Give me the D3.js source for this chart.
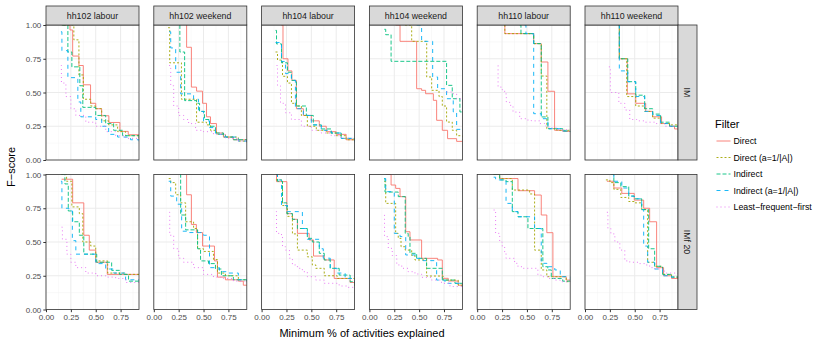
<!DOCTYPE html>
<html>
<head>
<meta charset="utf-8">
<script src="https://cdn.jsdelivr.net/npm/d3@7"></script>
<style>
body { margin: 0; background: #fff; }
text { font-family: "Liberation Sans", Arial, sans-serif; }
</style>
</head>
<body>
<svg width="830" height="346"></svg>
<script>
// facetten en reeksen
var households = ["hh102 labour", "hh102 weekend", "hh104 labour", "hh104 weekend", "hh110 labour", "hh110 weekend"];
var models = ["IM", "IMf 20"];
var filters = ["Direct", "Direct (a=1/|A|)", "Indirect", "Indirect (a=1/|A|)", "Least\u2212frequent\u2212first"];
var colors = ["#F8766D", "#A3A500", "#00BF7D", "#00B0F6", "#E76BF3"];
var dashes = [null, "2,2", "4,2", "4,4", "1,3"];
var xTicks = [0, 0.25, 0.5, 0.75];
var yTicks = [0, 0.25, 0.5, 0.75, 1];

// elke paneel: [Direct, Direct (a), Indirect, Indirect (a), Least-frequent-first], punten [x, F-score]
var hh102LabourIM = [
  [[0.157,1.0],[0.241,0.963],[0.268,0.77],[0.331,0.70],[0.375,0.557],[0.448,0.42],[0.50,0.38],[0.559,0.328],[0.632,0.278],[0.743,0.212],[0.827,0.187],[0.937,0.155]],
  [[0.174,1.0],[0.28,0.89],[0.331,0.63],[0.375,0.45],[0.45,0.40],[0.50,0.38],[0.56,0.29],[0.63,0.26],[0.72,0.21],[0.80,0.18],[0.937,0.16]],
  [[0.16,1.0],[0.22,0.80],[0.26,0.69],[0.34,0.55],[0.37,0.39],[0.50,0.33],[0.60,0.27],[0.68,0.22],[0.77,0.18],[0.937,0.15]],
  [[0.15,0.95],[0.16,0.81],[0.22,0.61],[0.32,0.43],[0.35,0.32],[0.50,0.30],[0.56,0.25],[0.63,0.19],[0.72,0.17],[0.85,0.15],[0.937,0.13]],
  [[0.15,0.70],[0.155,0.57],[0.20,0.47],[0.25,0.38],[0.30,0.33],[0.40,0.28],[0.50,0.25],[0.60,0.21],[0.70,0.18],[0.80,0.16],[0.937,0.14]]
];
var hh102WeekendIM = [
  [[0.328,1.0],[0.33,0.835],[0.378,0.54],[0.43,0.51],[0.49,0.42],[0.53,0.32],[0.57,0.27],[0.63,0.20],[0.70,0.17],[0.80,0.15],[0.937,0.13]],
  [[0.144,0.98],[0.16,0.72],[0.278,0.45],[0.43,0.28],[0.53,0.26],[0.57,0.22],[0.63,0.19],[0.72,0.17],[0.85,0.14],[0.937,0.13]],
  [[0.261,1.0],[0.262,0.80],[0.31,0.44],[0.43,0.42],[0.46,0.36],[0.51,0.30],[0.56,0.25],[0.62,0.20],[0.70,0.17],[0.80,0.15],[0.937,0.13]],
  [[0.154,0.95],[0.17,0.83],[0.22,0.65],[0.27,0.49],[0.40,0.45],[0.45,0.36],[0.50,0.29],[0.56,0.24],[0.62,0.19],[0.72,0.17],[0.85,0.14],[0.937,0.13]],
  [[0.154,0.70],[0.17,0.55],[0.20,0.40],[0.25,0.33],[0.30,0.30],[0.35,0.27],[0.42,0.22],[0.50,0.21],[0.60,0.19],[0.72,0.16],[0.85,0.14],[0.937,0.13]]
];
var hh104LabourIM = [
  [[0.197,1.0],[0.215,0.75],[0.265,0.66],[0.305,0.59],[0.35,0.38],[0.42,0.33],[0.50,0.29],[0.58,0.25],[0.65,0.21],[0.75,0.19],[0.85,0.15],[0.937,0.14]],
  [[0.14,0.80],[0.16,0.74],[0.21,0.62],[0.26,0.57],[0.30,0.42],[0.35,0.40],[0.40,0.33],[0.46,0.25],[0.55,0.22],[0.65,0.20],[0.75,0.18],[0.85,0.15],[0.937,0.14]],
  [[0.14,0.96],[0.15,0.86],[0.20,0.72],[0.26,0.65],[0.30,0.59],[0.35,0.40],[0.45,0.33],[0.52,0.26],[0.60,0.23],[0.70,0.20],[0.80,0.16],[0.937,0.14]],
  [[0.14,0.87],[0.20,0.73],[0.24,0.64],[0.30,0.59],[0.34,0.38],[0.42,0.33],[0.50,0.26],[0.60,0.22],[0.70,0.20],[0.80,0.16],[0.937,0.13]],
  [[0.15,0.70],[0.16,0.55],[0.19,0.42],[0.24,0.35],[0.30,0.30],[0.40,0.25],[0.50,0.22],[0.60,0.20],[0.70,0.18],[0.80,0.16],[0.937,0.14]]
];
var hh104WeekendIM = [
  [[0.264,1.0],[0.308,0.879],[0.475,0.528],[0.525,0.516],[0.565,0.491],[0.643,0.442],[0.676,0.294],[0.733,0.22],[0.786,0.158],[0.877,0.138],[0.937,0.138]],
  [[0.358,1.0],[0.425,0.879],[0.576,0.615],[0.626,0.516],[0.70,0.47],[0.733,0.40],[0.776,0.281],[0.833,0.22],[0.877,0.18],[0.937,0.146]],
  [[0.15,0.968],[0.164,0.928],[0.218,0.731],[0.776,0.553],[0.833,0.454],[0.91,0.356],[0.937,0.356]],
  [[0.475,1.0],[0.525,0.879],[0.636,0.615],[0.686,0.528],[0.776,0.454],[0.843,0.356],[0.877,0.227],[0.937,0.227]],
  [[0.776,0.504],[0.833,0.491],[0.877,0.454],[0.937,0.43]]
];
var hh110LabourIM = [
  [[0.276,1.0],[0.278,0.936],[0.568,0.862],[0.644,0.726],[0.711,0.509],[0.778,0.22],[0.86,0.212],[0.937,0.212]],
  [[0.276,1.0],[0.278,0.936],[0.568,0.862],[0.644,0.622],[0.70,0.232],[0.80,0.22],[0.937,0.212]],
  [[0.427,1.0],[0.44,0.936],[0.568,0.862],[0.644,0.319],[0.711,0.232],[0.86,0.215],[0.937,0.207]],
  [[0.476,1.0],[0.49,0.936],[0.568,0.343],[0.644,0.306],[0.711,0.232],[0.86,0.215],[0.937,0.205]],
  [[0.209,0.70],[0.21,0.54],[0.252,0.52],[0.276,0.49],[0.293,0.43],[0.326,0.405],[0.36,0.355],[0.427,0.306],[0.49,0.296],[0.544,0.29],[0.627,0.27],[0.677,0.252],[0.72,0.237],[0.80,0.225],[0.937,0.21]]
];
var hh110WeekendIM = [
  [[0.34,1.0],[0.345,0.75],[0.425,0.49],[0.51,0.42],[0.61,0.36],[0.68,0.32],[0.77,0.27],[0.85,0.25],[0.90,0.23],[0.937,0.23]],
  [[0.34,1.0],[0.345,0.75],[0.42,0.47],[0.51,0.40],[0.60,0.36],[0.68,0.31],[0.76,0.27],[0.85,0.26],[0.937,0.25]],
  [[0.34,1.0],[0.345,0.75],[0.43,0.58],[0.51,0.48],[0.60,0.38],[0.68,0.34],[0.76,0.28],[0.85,0.25],[0.937,0.25]],
  [[0.34,1.0],[0.345,0.66],[0.43,0.58],[0.51,0.47],[0.60,0.36],[0.68,0.33],[0.76,0.27],[0.85,0.25],[0.937,0.24]],
  [[0.24,0.69],[0.255,0.50],[0.34,0.42],[0.40,0.37],[0.45,0.30],[0.52,0.29],[0.60,0.28],[0.70,0.27],[0.80,0.25],[0.937,0.24]]
];
var hh102LabourIMf = [
  [[0.157,0.965],[0.268,0.79],[0.38,0.55],[0.435,0.44],[0.50,0.35],[0.616,0.26],[0.937,0.26]],
  [[0.15,1.0],[0.207,0.95],[0.26,0.76],[0.335,0.71],[0.37,0.50],[0.45,0.47],[0.50,0.36],[0.62,0.27],[0.80,0.26],[0.937,0.25]],
  [[0.157,1.0],[0.19,0.93],[0.224,0.73],[0.268,0.65],[0.335,0.55],[0.38,0.41],[0.51,0.35],[0.66,0.29],[0.74,0.26],[0.83,0.21],[0.937,0.21]],
  [[0.15,0.95],[0.16,0.75],[0.23,0.73],[0.265,0.51],[0.30,0.41],[0.38,0.41],[0.50,0.34],[0.60,0.30],[0.68,0.27],[0.80,0.22],[0.937,0.21]],
  [[0.157,0.61],[0.165,0.52],[0.21,0.41],[0.25,0.35],[0.30,0.31],[0.40,0.27],[0.50,0.25],[0.60,0.24],[0.70,0.23],[0.80,0.20],[0.937,0.19]]
];
var hh102WeekendIMf = [
  [[0.328,1.0],[0.33,0.85],[0.378,0.63],[0.428,0.57],[0.49,0.47],[0.61,0.36],[0.64,0.24],[0.72,0.22],[0.85,0.21],[0.90,0.18],[0.937,0.18]],
  [[0.15,0.97],[0.17,0.94],[0.22,0.85],[0.27,0.79],[0.32,0.65],[0.40,0.60],[0.44,0.45],[0.50,0.43],[0.60,0.37],[0.64,0.27],[0.72,0.25],[0.85,0.22],[0.937,0.20]],
  [[0.262,1.0],[0.27,0.70],[0.32,0.59],[0.44,0.45],[0.47,0.36],[0.55,0.34],[0.62,0.30],[0.68,0.25],[0.80,0.22],[0.937,0.21]],
  [[0.15,0.95],[0.17,0.84],[0.23,0.78],[0.28,0.58],[0.35,0.57],[0.46,0.57],[0.50,0.55],[0.56,0.31],[0.66,0.28],[0.73,0.27],[0.85,0.22],[0.937,0.21]],
  [[0.155,0.72],[0.16,0.55],[0.20,0.45],[0.25,0.38],[0.30,0.35],[0.40,0.31],[0.50,0.26],[0.60,0.24],[0.70,0.23],[0.80,0.21],[0.937,0.19]]
];
var hh104LabourIMf = [
  [[0.144,1.0],[0.15,0.947],[0.254,0.71],[0.31,0.668],[0.36,0.564],[0.478,0.515],[0.522,0.396],[0.63,0.367],[0.73,0.23],[0.89,0.20],[0.937,0.175]],
  [[0.144,0.96],[0.21,0.77],[0.26,0.69],[0.31,0.56],[0.36,0.44],[0.46,0.39],[0.51,0.33],[0.545,0.305],[0.63,0.25],[0.76,0.23],[0.937,0.18]],
  [[0.144,1.0],[0.16,0.95],[0.21,0.79],[0.254,0.71],[0.31,0.668],[0.36,0.60],[0.46,0.527],[0.51,0.50],[0.58,0.416],[0.63,0.367],[0.69,0.305],[0.78,0.255],[0.89,0.206],[0.937,0.17]],
  [[0.144,1.0],[0.16,0.96],[0.20,0.77],[0.26,0.725],[0.41,0.60],[0.46,0.52],[0.58,0.45],[0.62,0.38],[0.69,0.305],[0.76,0.27],[0.84,0.23],[0.937,0.18]],
  [[0.144,0.725],[0.15,0.564],[0.20,0.54],[0.21,0.465],[0.24,0.44],[0.28,0.38],[0.31,0.33],[0.36,0.305],[0.41,0.28],[0.46,0.243],[0.545,0.218],[0.63,0.194],[0.78,0.174],[0.86,0.164],[0.937,0.16]]
];
var hh104WeekendIMf = [
  [[0.164,1.0],[0.218,0.922],[0.264,0.897],[0.308,0.836],[0.365,0.576],[0.408,0.515],[0.525,0.379],[0.686,0.367],[0.733,0.231],[0.793,0.211],[0.893,0.18],[0.937,0.18]],
  [[0.15,0.947],[0.164,0.786],[0.264,0.564],[0.29,0.527],[0.318,0.465],[0.36,0.44],[0.425,0.40],[0.458,0.367],[0.575,0.248],[0.743,0.218],[0.893,0.18],[0.937,0.18]],
  [[0.15,0.97],[0.157,0.87],[0.29,0.836],[0.36,0.564],[0.39,0.54],[0.408,0.416],[0.475,0.379],[0.575,0.305],[0.733,0.218],[0.86,0.194],[0.937,0.17]],
  [[0.15,0.97],[0.164,0.873],[0.25,0.564],[0.308,0.54],[0.365,0.404],[0.475,0.379],[0.54,0.362],[0.676,0.218],[0.76,0.194],[0.937,0.17]],
  [[0.15,0.70],[0.152,0.54],[0.19,0.453],[0.23,0.40],[0.275,0.33],[0.325,0.305],[0.39,0.28],[0.458,0.263],[0.525,0.238],[0.625,0.218],[0.725,0.194],[0.81,0.17],[0.937,0.145]]
];
var hh110LabourIMf = [
  [[0.165,1.0],[0.226,0.97],[0.41,0.88],[0.577,0.848],[0.644,0.70],[0.70,0.569],[0.761,0.243],[0.895,0.218],[0.937,0.218]],
  [[0.165,1.0],[0.226,0.97],[0.353,0.885],[0.527,0.856],[0.577,0.44],[0.644,0.293],[0.70,0.243],[0.895,0.206],[0.937,0.206]],
  [[0.165,1.0],[0.226,0.96],[0.29,0.947],[0.353,0.725],[0.41,0.687],[0.51,0.60],[0.66,0.317],[0.71,0.293],[0.745,0.23],[0.86,0.21],[0.937,0.194]],
  [[0.165,0.98],[0.185,0.96],[0.29,0.786],[0.353,0.725],[0.41,0.687],[0.577,0.60],[0.644,0.342],[0.70,0.317],[0.78,0.293],[0.835,0.243],[0.937,0.194]],
  [[0.165,0.737],[0.185,0.564],[0.226,0.50],[0.252,0.465],[0.276,0.428],[0.29,0.379],[0.376,0.342],[0.41,0.317],[0.46,0.305],[0.61,0.255],[0.644,0.243],[0.71,0.23],[0.78,0.218],[0.835,0.206],[0.937,0.194]]
];
var hh110WeekendIMf = [
  [[0.22,0.95],[0.29,0.90],[0.37,0.86],[0.495,0.81],[0.59,0.75],[0.65,0.65],[0.72,0.31],[0.79,0.25],[0.87,0.23],[0.937,0.23]],
  [[0.21,0.96],[0.25,0.94],[0.29,0.89],[0.36,0.83],[0.44,0.80],[0.495,0.79],[0.57,0.74],[0.63,0.35],[0.70,0.32],[0.78,0.26],[0.87,0.24],[0.937,0.23]],
  [[0.26,1.0],[0.29,0.94],[0.36,0.91],[0.44,0.84],[0.495,0.82],[0.57,0.74],[0.64,0.45],[0.70,0.32],[0.78,0.26],[0.87,0.24],[0.937,0.24]],
  [[0.28,1.0],[0.29,0.95],[0.37,0.90],[0.44,0.84],[0.495,0.82],[0.57,0.74],[0.59,0.47],[0.63,0.35],[0.70,0.30],[0.78,0.25],[0.87,0.24],[0.937,0.24]],
  [[0.22,0.72],[0.23,0.60],[0.26,0.56],[0.30,0.50],[0.35,0.44],[0.40,0.36],[0.45,0.35],[0.55,0.34],[0.60,0.33],[0.65,0.31],[0.70,0.30],[0.80,0.27],[0.937,0.24]]
];

var grid = [
  [hh102LabourIM, hh102WeekendIM, hh104LabourIM, hh104WeekendIM, hh110LabourIM, hh110WeekendIM],
  [hh102LabourIMf, hh102WeekendIMf, hh104LabourIMf, hh104WeekendIMf, hh110LabourIMf, hh110WeekendIMf]
];

var svg = d3.select("svg");
var pw = 93, ph = 135, left0 = 46, step = 107.8, tops = [25, 174.5];

var x = d3.scaleLinear().domain([0, 0.935]).range([0, pw]);
var y = d3.scaleLinear().domain([0, 1]).range([ph, 0]);
var line = d3.line().x(function (d) { return x(d[0]); }).y(function (d) { return y(d[1]); }).curve(d3.curveStepAfter);
var fmt = d3.format(".2f");

svg.append("defs").append("clipPath").attr("id", "clip")
  .append("rect").attr("width", pw).attr("height", ph);

models.forEach(function (m, r) {
  households.forEach(function (h, c) {
    var g = svg.append("g").attr("transform", "translate(" + (left0 + c * step) + "," + tops[r] + ")");
    g.append("rect").attr("width", pw).attr("height", ph).attr("fill", "#fff");

    // minor rasterlijnen
    [0.125, 0.375, 0.625, 0.875].forEach(function (v) {
      g.append("line").attr("x1", x(v)).attr("x2", x(v)).attr("y1", 0).attr("y2", ph).attr("stroke", "#F2F2F2").attr("stroke-width", 0.5);
      g.append("line").attr("y1", y(v)).attr("y2", y(v)).attr("x1", 0).attr("x2", pw).attr("stroke", "#F2F2F2").attr("stroke-width", 0.5);
    });
    xTicks.forEach(function (v) {
      g.append("line").attr("x1", x(v)).attr("x2", x(v)).attr("y1", 0).attr("y2", ph).attr("stroke", "#EBEBEB").attr("stroke-width", 1);
    });
    yTicks.forEach(function (v) {
      g.append("line").attr("y1", y(v)).attr("y2", y(v)).attr("x1", 0).attr("x2", pw).attr("stroke", "#EBEBEB").attr("stroke-width", 1);
    });

    var series = grid[r][c];
    g.append("g").attr("clip-path", "url(#clip)")
      .selectAll("path").data(series).enter().append("path")
      .attr("d", line)
      .attr("fill", "none")
      .attr("stroke", function (d, i) { return colors[i]; })
      .attr("stroke-width", 0.9)
      .attr("stroke-dasharray", function (d, i) { return dashes[i]; });

    g.append("rect").attr("width", pw).attr("height", ph).attr("fill", "none").attr("stroke", "#333").attr("stroke-width", 0.8);

    // strook bovenaan
    if (r === 0) {
      g.append("rect").attr("y", -19).attr("width", pw).attr("height", 19).attr("fill", "#D9D9D9").attr("stroke", "#333").attr("stroke-width", 0.8);
      g.append("text").attr("x", pw / 2).attr("y", -9.5).attr("dy", "0.35em").attr("text-anchor", "middle")
        .attr("font-size", 8.8).attr("fill", "#1A1A1A").text(h);
    }
    // strook rechts
    if (c === households.length - 1) {
      g.append("rect").attr("x", pw).attr("width", 19).attr("height", ph).attr("fill", "#D9D9D9").attr("stroke", "#333").attr("stroke-width", 0.8);
      g.append("text").attr("transform", "translate(" + (pw + 9.5) + "," + (ph / 2) + ") rotate(90)")
        .attr("dy", "0.35em").attr("text-anchor", "middle").attr("font-size", 8.8).attr("fill", "#1A1A1A").text(m);
    }
    // y-as
    if (c === 0) {
      var ya = g.append("g").call(d3.axisLeft(y).tickValues(yTicks).tickFormat(fmt).tickSize(2.7).tickPadding(2));
      ya.select(".domain").remove();
      ya.selectAll("line").attr("stroke", "#333");
      ya.selectAll("text").attr("font-size", 8).attr("fill", "#4D4D4D").attr("font-family", "Liberation Sans, Arial, sans-serif");
    }
    // x-as
    if (r === 1) {
      var xa = g.append("g").attr("transform", "translate(0," + ph + ")")
        .call(d3.axisBottom(x).tickValues(xTicks).tickFormat(fmt).tickSize(2.7).tickPadding(2));
      xa.select(".domain").remove();
      xa.selectAll("line").attr("stroke", "#333");
      xa.selectAll("text").attr("font-size", 8).attr("fill", "#4D4D4D").attr("font-family", "Liberation Sans, Arial, sans-serif");
    }
  });
});

// astitels
svg.append("text").attr("transform", "translate(15,167) rotate(-90)").attr("text-anchor", "middle")
  .attr("font-size", 11).attr("fill", "#000").text("F\u2212score");
svg.append("text").attr("x", 362).attr("y", 337).attr("text-anchor", "middle")
  .attr("font-size", 11).attr("fill", "#000").text("Minimum % of activities explained");

// legenda
var leg = svg.append("g").attr("transform", "translate(715,0)");
leg.append("text").attr("x", 0).attr("y", 128).attr("font-size", 11).attr("fill", "#000").text("Filter");
filters.forEach(function (f, i) {
  var yy = 141 + i * 16.5;
  leg.append("line").attr("x1", 1.5).attr("x2", 15.5).attr("y1", yy).attr("y2", yy)
    .attr("stroke", colors[i]).attr("stroke-width", 0.9).attr("stroke-dasharray", dashes[i]);
  leg.append("text").attr("x", 18.5).attr("y", yy).attr("dy", "0.35em").attr("font-size", 8.8).attr("fill", "#000").text(f);
});
</script>
</body>
</html>
